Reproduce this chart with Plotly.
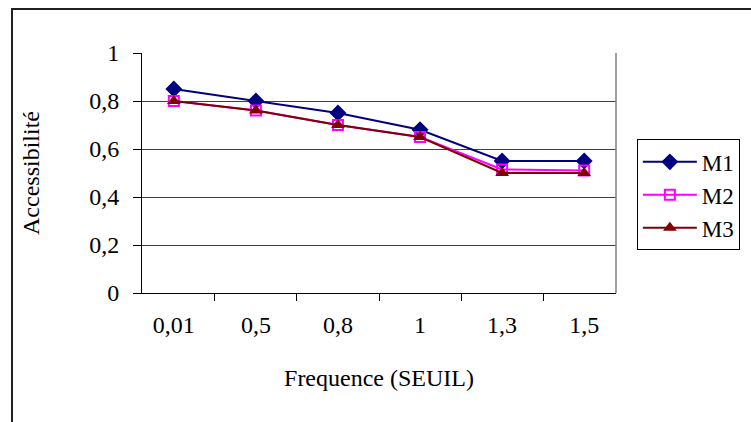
import plotly.graph_objects as go

# Threshold categories on the x axis
seuils = ["0,01", "0,5", "0,8", "1", "1,3", "1,5"]

# Accessibility per method
m1 = [0.85, 0.80, 0.75, 0.68, 0.55, 0.55]
m2 = [0.80, 0.76, 0.70, 0.65, 0.515, 0.51]
m3 = [0.80, 0.76, 0.70, 0.65, 0.50, 0.50]

# Y tick positions and their French-style labels
y_ticks = [0, 0.2, 0.4, 0.6, 0.8, 1]
y_labels = ["0", "0,2", "0,4", "0,6", "0,8", "1"]

FONT = "Liberation Serif"
FS = 24

fig = go.Figure()
fig.add_trace(go.Scatter(
    x=seuils, y=m1, name="M1", mode="lines+markers",
    line=dict(color="#000080", width=2),
    marker=dict(symbol="diamond", size=13, color="#000080"),
))
fig.add_trace(go.Scatter(
    x=seuils, y=m2, name="M2", mode="lines+markers",
    line=dict(color="#FF00FF", width=2),
    marker=dict(symbol="square-open", size=10, color="#FF00FF", line=dict(width=2)),
))
fig.add_trace(go.Scatter(
    x=seuils, y=m3, name="M3", mode="lines+markers",
    line=dict(color="#800000", width=2),
    marker=dict(symbol="triangle-up", size=12, color="#800000"),
))

fig.update_layout(
    width=751, height=422,
    margin=dict(l=142, r=135, t=53, b=129, autoexpand=False),
    paper_bgcolor="white", plot_bgcolor="white",
    showlegend=True,
    legend=dict(
        x=1.044, y=0.64, xanchor="left", yanchor="top",
        bordercolor="black", borderwidth=1, bgcolor="white",
        font=dict(family=FONT, size=23, color="black"),
        itemwidth=54,
    ),
    xaxis=dict(
        type="category", tickson="boundaries",
        ticks="outside", ticklen=7, tickcolor="black", tickwidth=1,
        showline=True, linecolor="black", linewidth=1,
        showgrid=False, zeroline=False,
        ticklabelstandoff=10,
        tickfont=dict(family=FONT, size=FS, color="black"),
        title=dict(text="Frequence (SEUIL)", standoff=32,
                   font=dict(family=FONT, size=FS, color="black")),
    ),
    yaxis=dict(
        range=[0, 1], tickvals=y_ticks, ticktext=y_labels,
        ticks="outside", ticklen=8, tickcolor="black", tickwidth=1,
        showline=True, linecolor="black", linewidth=1,
        showgrid=True, gridcolor="#404040", gridwidth=1,
        zeroline=False,
        ticklabelstandoff=9,
        tickfont=dict(family=FONT, size=FS, color="black"),
        title=dict(text="Accessibilité", standoff=42,
                   font=dict(family=FONT, size=FS, color="black")),
    ),
)

# Outer chart frame (runs off the right and bottom edges)
fig.add_shape(type="rect", xref="paper", yref="paper",
              x0=(12 - 142) / 474, x1=(760 - 142) / 474,
              y0=-(140) / 240, y1=1 + (53 - 9) / 240,
              line=dict(color="#202020", width=2), fillcolor="rgba(0,0,0,0)",
              layer="below")
# Right edge of the plot area
fig.add_shape(type="line", xref="paper", yref="paper",
              x0=1, x1=1, y0=0, y1=1,
              line=dict(color="#808080", width=1.5))

fig.write_html("out.html")
